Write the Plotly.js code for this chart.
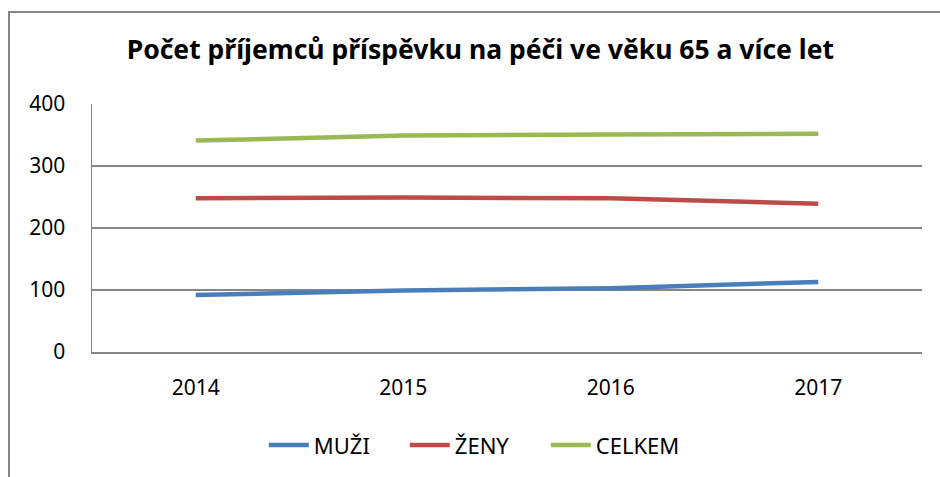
<!DOCTYPE html>
<html><head><meta charset="utf-8">
<script src="https://cdn.plot.ly/plotly-3.0.1.min.js"></script>
<style>
html,body{margin:0;padding:0;background:#fff;width:940px;height:477px;overflow:hidden;}
#frame{position:absolute;left:8px;top:11px;width:940px;height:480px;border-left:2px solid #868686;border-top:2px solid #868686;}
#chart{position:absolute;left:0;top:0;width:940px;height:477px;}
</style></head>
<body>
<div id="frame"></div>
<div id="chart"></div>
<script>
const years = ['2014', '2015', '2016', '2017'];
const muzi = [92, 99, 103, 113];
const zeny = [248, 249, 248, 239];
const celkem = [341, 349, 351, 352];
const seriesNames = ['MUŽI', 'ŽENY', 'CELKEM'];
const colors = ['#4A7EBB', '#BE4B48', '#98B954'];
const yTicks = [0, 100, 200, 300, 400];

const font = 'Noto Sans, Open Sans, sans-serif';
const traces = [muzi, zeny, celkem].map((v, i) => ({
  x: years, y: v, type: 'scatter', mode: 'lines', name: seriesNames[i],
  line: {color: colors[i], width: 4.5}
}));

const layout = {
  width: 940, height: 477,
  paper_bgcolor: 'rgba(0,0,0,0)', plot_bgcolor: 'rgba(0,0,0,0)',
  margin: {l: 92, r: 18, t: 104, b: 124},
  title: {text: '<b>Počet příjemců příspěvku na péči ve věku 65 a více let</b>',
    font: {family: font, size: 26.5, color: '#000'}, x: 0.511, xanchor: 'center', y: 0.895, yanchor: 'middle'},
  xaxis: {type: 'category', range: [-0.5, 3.5], showline: true, linecolor: '#868686', linewidth: 1.5,
    showgrid: false, ticks: '', tickfont: {family: font, size: 21, color: '#000'},
    ticklabelstandoff: 16, fixedrange: true},
  yaxis: {range: [0, 400], tickvals: yTicks, showline: true, linecolor: '#868686', linewidth: 1.5,
    gridcolor: '#868686', gridwidth: 1.5, zeroline: false, ticks: '',
    tickfont: {family: font, size: 21, color: '#000'}, ticklabelstandoff: 21, fixedrange: true},
  legend: {orientation: 'h', x: 0.207, xanchor: 'left', y: -0.37, yanchor: 'middle',
    font: {family: font, size: 22, color: '#000'}, itemwidth: 40, entrywidth: 86, entrywidthmode: 'pixels', tracegroupgap: 0},
  showlegend: true
};
Plotly.newPlot('chart', traces, layout, {displayModeBar: false, staticPlot: true});
</script>
</body></html>
